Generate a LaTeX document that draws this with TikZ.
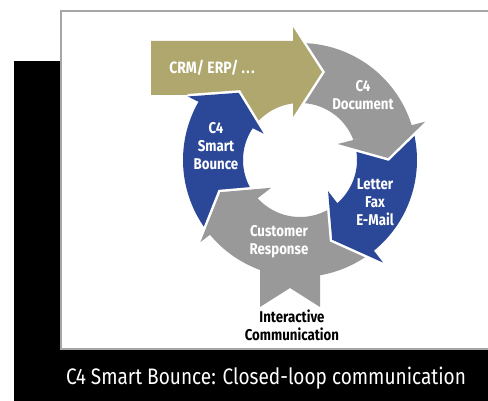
\documentclass[tikz,border=0pt]{standalone}
\usepackage{fontspec}
\setmainfont{Fira Sans}[FakeStretch=0.85]
\definecolor{goldc}{HTML}{AFA76E}
\definecolor{bluec}{HTML}{2B4797}
\definecolor{grayc}{HTML}{999999}
\definecolor{framec}{HTML}{A6A6A6}
\tikzset{
  lbl/.style={text=white, font=\bfseries\fontsize{15.6}{18}\selectfont, align=center, inner sep=0pt},
  blacklbl/.style={text=black, font=\bfseries\fontsize{15.6}{18}\selectfont, align=center, inner sep=0pt},
  headedge/.style={draw=white, line width=5pt, line join=miter},
  smp/.style={samples=40, smooth},
}
\begin{document}
\begin{tikzpicture}[x=1pt,y=-1pt]
\clip (0,0) rectangle (488,401);
\useasboundingbox (0,0) rectangle (488,401);
\fill[white] (0,0) rectangle (488,401);
% black backdrop and framed panel
\fill[black] (14,61) rectangle (500,410);
\draw[framec, fill=white, line width=2pt] (61,11) rectangle (510,349);
% ribbon tail of the Customer Response arrow
\fill[grayc] (260,255) -- (260,307) -- (290,288) -- (320,307) -- (320,255) -- cycle;
\begin{scope}[shift={(300,160)}]
  % bodies (each tail starts a little inside the previous head, each end runs a little into its own head)
  \fill[grayc] plot[smp,domain=-93:-16.4] (\x:117) -- plot[smp,domain=-20.5:-93] (\x:57) -- cycle;
  \fill[bluec] plot[smp,domain=-15.4:52] (\x:117) -- plot[smp,domain=50:-19.5] (\x:57) -- cycle;
  \fill[grayc] plot[smp,domain=53:141.3] (\x:117) -- plot[smp,domain=138.3:51] (\x:57) -- cycle;
  \fill[bluec] plot[smp,domain=142.3:212] (\x:117) -- plot[smp,domain=216.4:139.3] (\x:57) -- cycle;
\end{scope}
% gold body
\fill[goldc] (151,41) -- (294,41) -- (294,103.4)
  -- plot[smp,domain=-97:-140] ({300+57*cos(\x)},{160+57*sin(\x)})
  -- (236,100) -- (236,95) -- (151,95) -- cycle;
\begin{scope}[shift={(300,160)}]
  % heads
  \draw[headedge] (-17:131) -- (-1.3:88) -- (-23:41);
  \fill[grayc] (-17:131) -- (-1.3:88) -- (-23:41) -- cycle;
  \draw[headedge] (51:132) -- (68:86) -- (48:42);
  \fill[bluec] (51:132) -- (68:86) -- (48:42) -- cycle;
  \draw[headedge] (140.5:129) -- (158:86) -- (136:40);
  \fill[grayc] (140.5:129) -- (158:86) -- (136:40) -- cycle;
  \draw[headedge] (209.5:129) -- (227.6:91) -- (216:45);
  \fill[bluec] (209.5:129) -- (227.6:91) -- (216:45) -- cycle;
\end{scope}
\draw[headedge] (293,27) -- (322,72) -- (293,117);
\fill[goldc] (293,27) -- (322,72) -- (293,117) -- cycle;
% labels
\node[lbl, font=\bfseries\fontsize{16.4}{18}\selectfont] (crm) at (212,68) {CRM/ ERP/ .\kern1.5pt.\kern1.5pt.};
\node[lbl] (doc) at (363,95) {C4\\Document};
\node[lbl] (letter) at (375,202) {Letter\\Fax\\E-Mail};
\node[lbl] (bounce) at (216,146) {C4\\Smart\\Bounce};
\node[lbl] (resp) at (279,242) {Customer\\Response};
\node[blacklbl] (inter) at (292,325) {Interactive\\Communication};
\node[text=white, font=\fontsize{22.4}{26}\selectfont, inner sep=0pt] (cap) at (266,378) {C4 Smart Bounce: Closed-loop communication};
\end{tikzpicture}
\end{document}
